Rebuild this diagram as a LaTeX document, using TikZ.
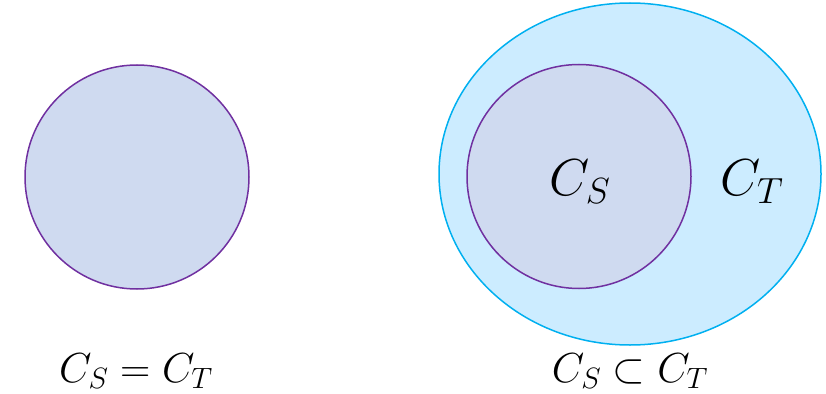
\RequirePackage{fix-cm}
\documentclass[tikz,border=0pt]{standalone}
\begin{document}
\begin{tikzpicture}[x=1pt,y=-1pt,
  setS/.style={draw={rgb,255:red,112;green,48;blue,160}, fill={rgb,255:red,207;green,218;blue,240}, line width=1.5pt},
  setT/.style={draw={rgb,255:red,0;green,176;blue,240}, fill={rgb,255:red,204;green,236;blue,255}, line width=1.5pt},
  biglbl/.style={font=\fontsize{52}{58}\selectfont, inner sep=0pt},
  botlbl/.style={font=\fontsize{42}{46}\selectfont, inner sep=0pt}]
\useasboundingbox (0,0) rectangle (826,393);
\draw[setS] (137,177) circle[radius=112];
\draw[setT] (630,174) ellipse[x radius=191, y radius=171];
\draw[setS] (579,176.5) circle[radius=112];
\node[biglbl] (cs) at (580,182) {$C_S$};
\node[biglbl] (ct) at (752,182) {$C_T$};
\node[botlbl] (eq) at (136,371) {$C_S = C_T$};
\node[botlbl] (sub) at (630,371) {$C_S \subset C_T$};
\end{tikzpicture}
\end{document}
